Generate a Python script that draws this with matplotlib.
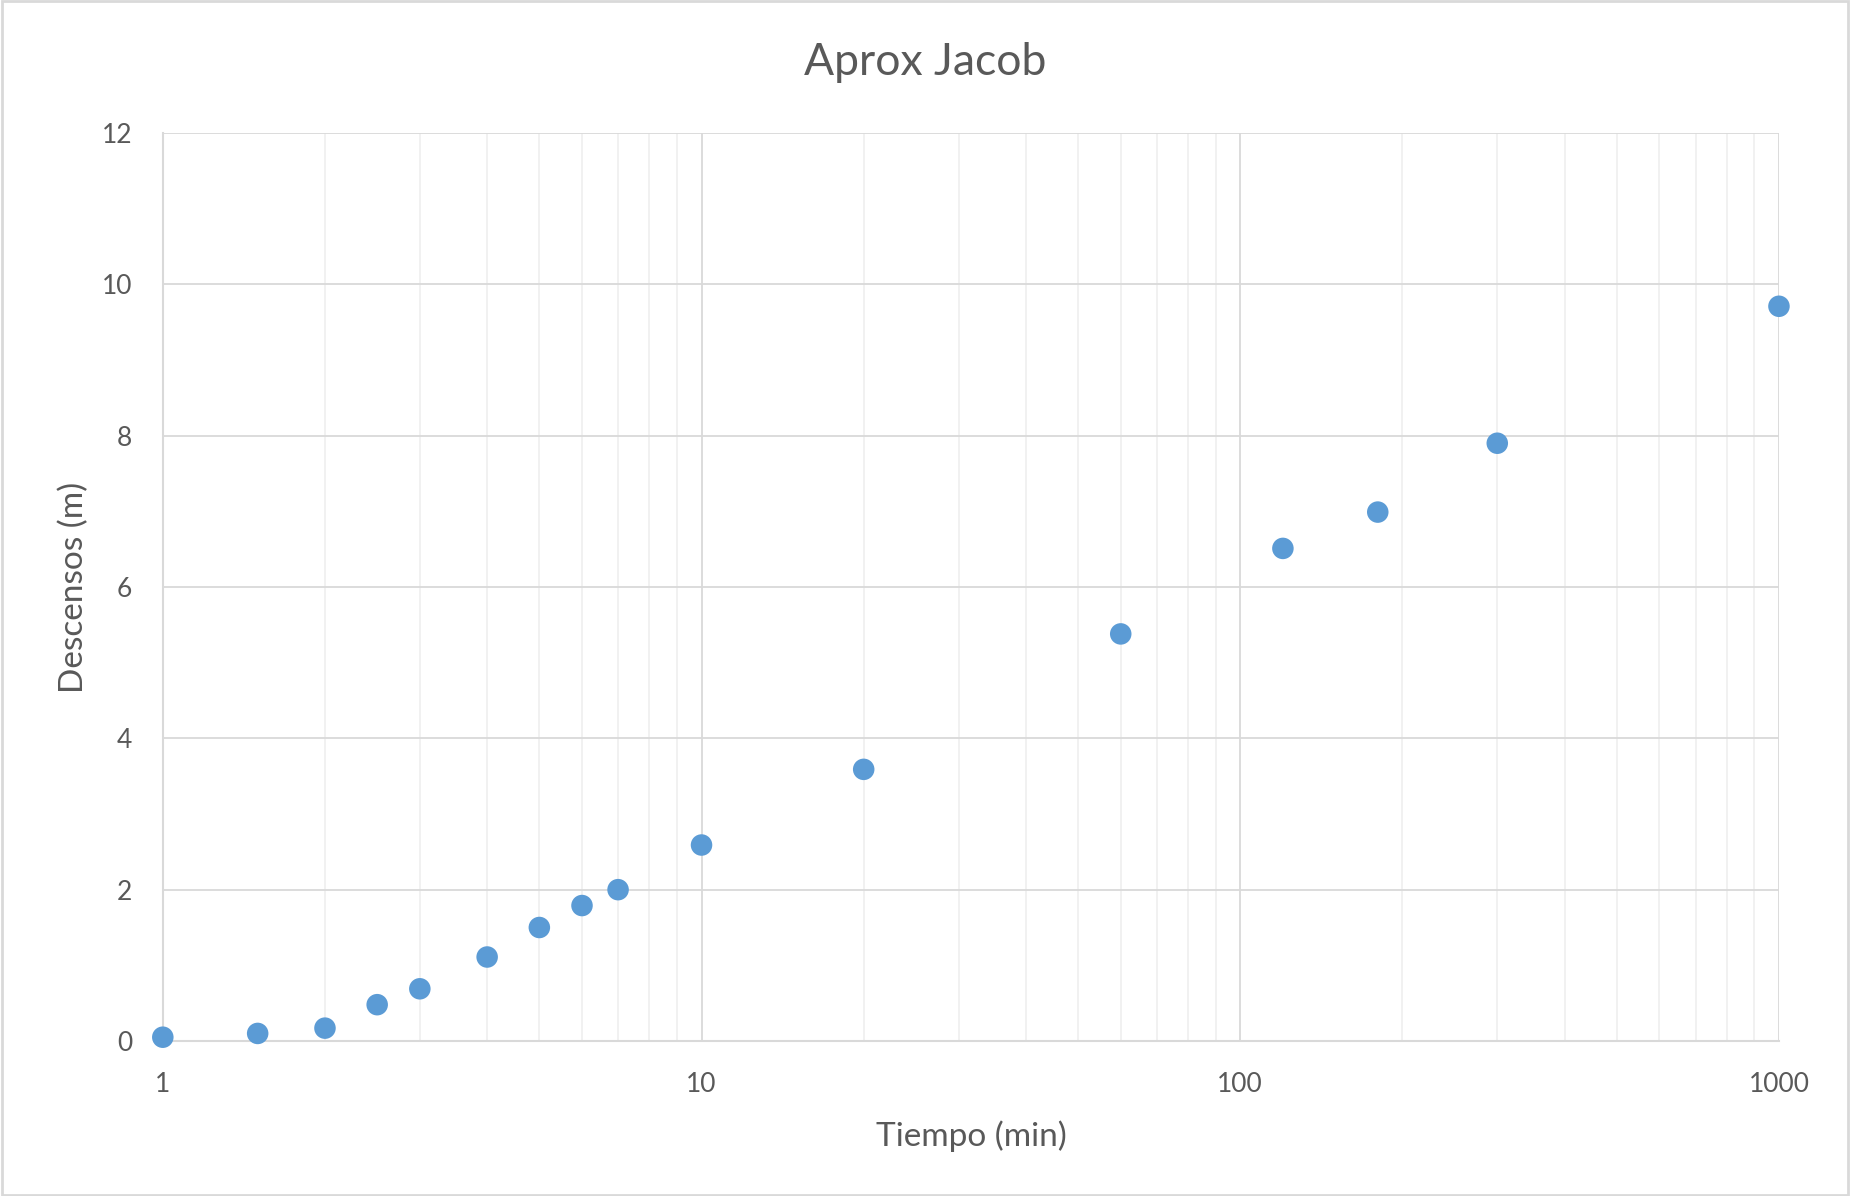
import matplotlib
matplotlib.use("Agg")
import matplotlib.pyplot as plt
from matplotlib.patches import Rectangle
from matplotlib.ticker import FixedLocator, NullFormatter

# Pumping test data: time (min) vs drawdown (m)
tiempo = [1, 1.5, 2, 2.5, 3, 4, 5, 6, 7, 10, 20, 60, 120, 180, 300, 1000]
descensos = [0.05, 0.10, 0.17, 0.48, 0.69, 1.11, 1.50, 1.79, 2.00,
             2.59, 3.59, 5.38, 6.51, 6.99, 7.90, 9.71]

x_ticks = [1, 10, 100, 1000]
x_ticklabels = ["1", "10", "100", "1000"]
y_ticks = [0, 2, 4, 6, 8, 10, 12]

TEXT = "#595959"
GRID_MAJOR = "#d9d9d9"
GRID_MINOR = "#efefef"
BLUE = "#5b9bd5"

plt.rcParams["font.family"] = ["Lato", "DejaVu Sans"]

fig = plt.figure(figsize=(18.5, 11.96), dpi=100)
ax = fig.add_axes([0.088, 0.1296, 0.8736, 0.7592])

ax.set_xscale("log")
ax.set_xlim(1, 1000)
ax.set_ylim(0, 12)

ax.xaxis.set_minor_locator(FixedLocator(
    [m * 10 ** d for d in range(3) for m in range(2, 10)]))
ax.xaxis.set_minor_formatter(NullFormatter())
ax.set_xticks(x_ticks)
ax.set_xticklabels(x_ticklabels)
ax.set_yticks(y_ticks)

ax.grid(which="minor", axis="x", color=GRID_MINOR, linewidth=1.2)
ax.grid(which="major", axis="both", color=GRID_MAJOR, linewidth=1.3)
ax.set_axisbelow(True)

for side in ["top", "right"]:
    ax.spines[side].set_visible(False)
for side in ["left", "bottom"]:
    ax.spines[side].set_color(GRID_MAJOR)
    ax.spines[side].set_linewidth(1.5)

ax.tick_params(which="both", length=0, labelsize=19, labelcolor=TEXT)
ax.tick_params(axis="x", pad=22)
ax.tick_params(axis="y", pad=22)

ax.scatter(tiempo, descensos, s=240, color=BLUE, edgecolors="none",
           zorder=3, clip_on=False)

ax.set_xlabel("Tiempo (min)", fontsize=24, color=TEXT, labelpad=17)
ax.set_ylabel("Descensos (m)", fontsize=24, color=TEXT, labelpad=9)
fig.suptitle("Aprox Jacob", fontsize=32, color=TEXT, y=0.965)

# Chart-area border
fig.patches.append(Rectangle((0.001, 0.001), 0.998, 0.998,
                             transform=fig.transFigure, fill=False,
                             edgecolor=GRID_MAJOR, linewidth=2))

fig.savefig("out.png", dpi=100, facecolor="white")
